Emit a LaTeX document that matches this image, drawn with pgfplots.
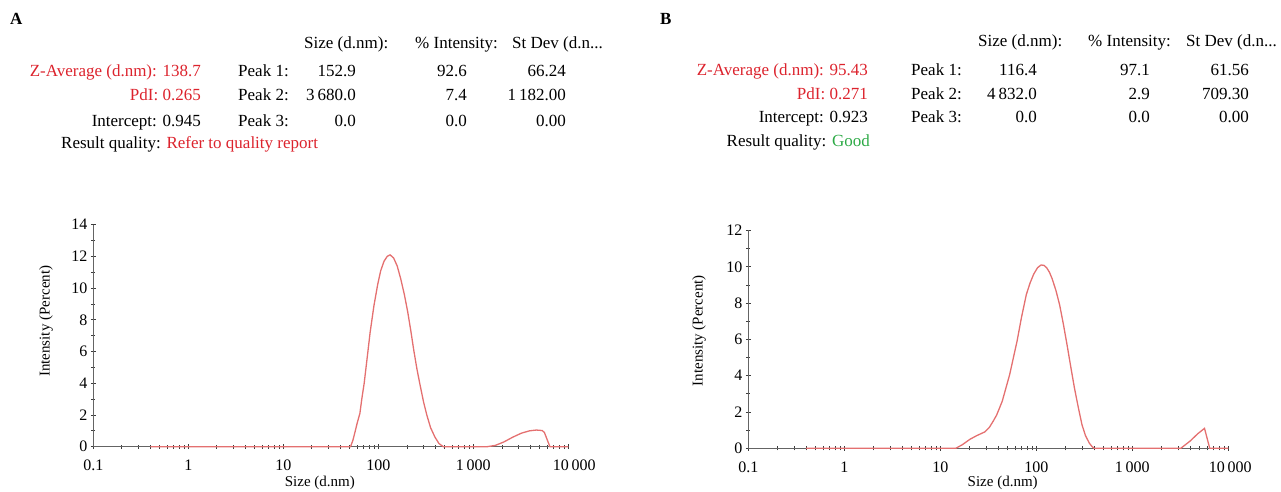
\documentclass[border=0pt]{standalone}
\usepackage{pgfplots}
\pgfplotsset{compat=1.18}
\usepackage{fontspec}
\setmainfont{Liberation Serif}
\definecolor{curvered}{RGB}{228,112,112}
\definecolor{txtred}{RGB}{220,35,45}
\definecolor{txtgreen}{RGB}{45,170,70}
\definecolor{axgray}{RGB}{100,100,100}
\definecolor{tkgray}{RGB}{60,60,60}
\newcommand\hd{\fontsize{17bp}{20bp}\selectfont}
\newcommand\tk{\fontsize{16bp}{18bp}\selectfont}
\newcommand\lb{\fontsize{15bp}{17bp}\selectfont}
\begin{document}
\begin{tikzpicture}[x=1bp,y=1bp]
\path[use as bounding box] (0,0) rectangle (1281,492);
% ---------- Panel A header ----------
\begin{scope}[every node/.style={inner sep=0, font=\hd}]
\node[anchor=base west, font=\hd\bfseries] at (10,467) {A};
\node[anchor=base west] at (304,443) {Size (d.nm):};
\node[anchor=base west] at (415,443) {\% Intensity:};
\node[anchor=base west] at (512,443) {St Dev (d.n...};
\node[anchor=base east, text=txtred] at (201,415) {Z-Average (d.nm): 138.7};
\node[anchor=base east, text=txtred] at (201,391) {PdI: 0.265};
\node[anchor=base east] at (201,365) {Intercept: 0.945};
\node[anchor=base west] at (61,343) {Result quality: \textcolor{txtred}{Refer to quality report}};
\node[anchor=base west] at (238,415) {Peak 1:};
\node[anchor=base west] at (238,391) {Peak 2:};
\node[anchor=base west] at (238,365) {Peak 3:};
\node[anchor=base east] at (356,415) {152.9};
\node[anchor=base east] at (356,391) {3\,680.0};
\node[anchor=base east] at (356,365) {0.0};
\node[anchor=base east] at (467,415) {92.6};
\node[anchor=base east] at (467,391) {7.4};
\node[anchor=base east] at (467,365) {0.0};
\node[anchor=base east] at (566,415) {66.24};
\node[anchor=base east] at (566,391) {1\,182.00};
\node[anchor=base east] at (566,365) {0.00};
% ---------- Panel B header ----------
\node[anchor=base west, font=\hd\bfseries] at (660,467) {B};
\node[anchor=base west] at (978,445) {Size (d.nm):};
\node[anchor=base west] at (1088,445) {\% Intensity:};
\node[anchor=base west] at (1186,445) {St Dev (d.n...};
\node[anchor=base east, text=txtred] at (868,416) {Z-Average (d.nm): 95.43};
\node[anchor=base east, text=txtred] at (868,392) {PdI: 0.271};
\node[anchor=base east] at (868,369) {Intercept: 0.923};
\node[anchor=base east] at (870,345) {Result quality: \textcolor{txtgreen}{Good}};
\node[anchor=base west] at (911,416) {Peak 1:};
\node[anchor=base west] at (911,392) {Peak 2:};
\node[anchor=base west] at (911,369) {Peak 3:};
\node[anchor=base east] at (1037,416) {116.4};
\node[anchor=base east] at (1037,392) {4\,832.0};
\node[anchor=base east] at (1037,369) {0.0};
\node[anchor=base east] at (1150,416) {97.1};
\node[anchor=base east] at (1150,392) {2.9};
\node[anchor=base east] at (1150,369) {0.0};
\node[anchor=base east] at (1249,416) {61.56};
\node[anchor=base east] at (1249,392) {709.30};
\node[anchor=base east] at (1249,369) {0.00};
\end{scope}
% ---------- Panel A plot ----------
\begin{axis}[
  xmode=log,
  scale only axis,
  at={(93.3bp,45.3bp)}, anchor=south west,
  width=475bp, height=222bp,
  xmin=0.1, xmax=10000, ymin=0, ymax=14,
  axis x line*=bottom, axis y line*=left,
  axis line style={axgray, line width=1.2bp},
  tick style={tkgray, line width=0.8bp},
  tick align=center,
  major tick length=5bp, minor tick length=4bp,
  xtick={0.1,1,10,100,1000,10000},
  xticklabels={0.1,1,10,100,1\,000,\hspace*{12bp}10\,000},
  minor xtick={0.2,0.3,0.4,0.5,0.6,0.7,0.8,0.9,2,3,4,5,6,7,8,9,20,30,40,50,60,70,80,90,200,300,400,500,600,700,800,900,2000,3000,4000,5000,6000,7000,8000,9000},
  ytick={0,2,4,6,8,10,12,14}, minor ytick={1,3,5,7,9,11,13},
  ticklabel style={font=\tk},
  /pgf/number format/assume math mode=true,
  xticklabel style={anchor=base, yshift=-21bp},
  xlabel={Size (d.nm)}, ylabel={Intensity (Percent)},
  xlabel style={font=\lb, at={(axis description cs:0.477,-0.164)}, anchor=center},
  ylabel style={font=\lb, at={(axis description cs:-0.0996,0.565)}, anchor=center},
  clip=false,
]
\addplot[curvered, line width=1.3bp] coordinates {
(0.4,0) (51,0) (54,0.4) (57,0.95) (60,1.5) (64,2.1) (67,3.0) (71,4.0) (76,5.5) (82,7.2) (90,8.9) (98.6,10.24) (106,11.1) (115,11.7) (124,12.0) (133,12.1) (145,11.9) (158,11.4) (172,10.6) (188,9.6) (204,8.5) (220,7.3) (236,6.1) (255,4.9) (275,3.9) (300,2.8) (324,2.0) (355,1.2) (395,0.6) (435,0.2) (483,0)
(1400,0) (1700,0.08) (2100,0.3) (2600,0.6) (3200,0.85) (3900,1.0) (4600,1.05) (5300,1.02) (5600,0.9) (6400,0) (10000,0)
};
\end{axis}
% ---------- Panel B plot ----------
\begin{axis}[
  xmode=log,
  scale only axis,
  at={(748.3bp,43.7bp)}, anchor=south west,
  width=480bp, height=217.8bp,
  xmin=0.1, xmax=10000, ymin=0, ymax=12,
  axis x line*=bottom, axis y line*=left,
  axis line style={axgray, line width=1.2bp},
  tick style={tkgray, line width=0.8bp},
  tick align=center,
  major tick length=5bp, minor tick length=4bp,
  xtick={0.1,1,10,100,1000,10000},
  xticklabels={0.1,1,10,100,1\,000,\hspace*{4bp}10\,000},
  minor xtick={0.2,0.3,0.4,0.5,0.6,0.7,0.8,0.9,2,3,4,5,6,7,8,9,20,30,40,50,60,70,80,90,200,300,400,500,600,700,800,900,2000,3000,4000,5000,6000,7000,8000,9000},
  ytick={0,2,4,6,8,10,12}, minor ytick={1,3,5,7,9,11},
  ticklabel style={font=\tk},
  /pgf/number format/assume math mode=true,
  xticklabel style={anchor=base, yshift=-22bp},
  xlabel={Size (d.nm)}, ylabel={Intensity (Percent)},
  xlabel style={font=\lb, at={(axis description cs:0.53,-0.16)}, anchor=center},
  ylabel style={font=\lb, at={(axis description cs:-0.1027,0.54)}, anchor=center},
  clip=false,
]
\addplot[curvered, line width=1.3bp] coordinates {
(0.4,0) (14.5,0) (17,0.2) (20.4,0.5) (24,0.7) (29,0.9) (32.4,1.15) (35.6,1.5) (38.7,1.84) (44.2,2.6) (52.7,4.05) (63,5.9) (70,7.2) (78.7,8.47) (86,9.1) (94,9.6) (103,9.95) (112,10.1) (120,10.08) (128,9.95) (137,9.7) (146,9.35) (160,8.7) (175,7.9) (192,6.8) (209,5.7) (230,4.4) (250,3.3) (275,2.2) (299,1.3) (325,0.7) (357,0.28) (380,0.1) (400,0)
(3200,0) (4000,0.4) (4800,0.8) (5650,1.1) (6400,0) (10000,0)
};
\end{axis}
\end{tikzpicture}
\end{document}
